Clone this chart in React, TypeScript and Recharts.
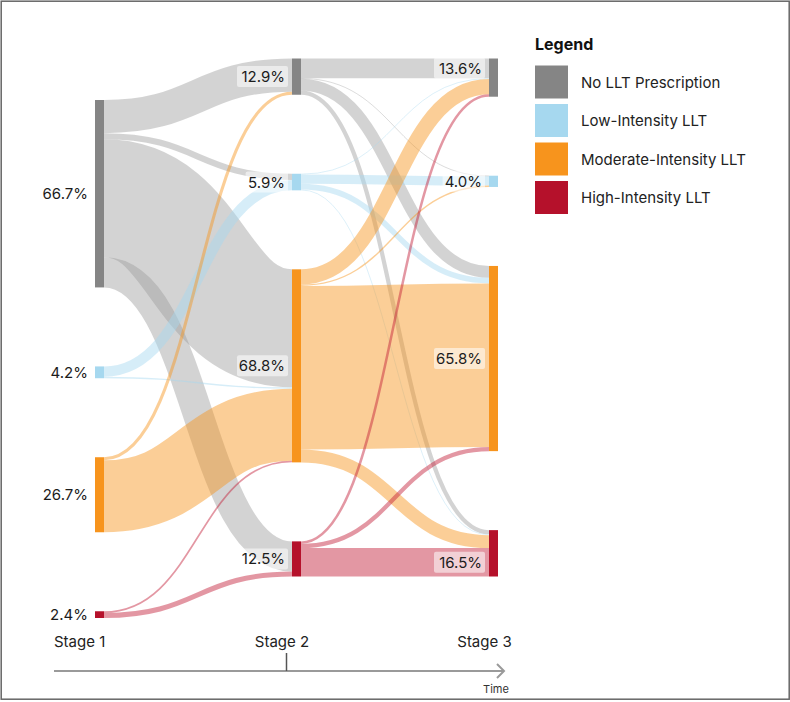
import React from "react";
import { Sankey } from "recharts";

const categories = ["No LLT Prescription", "Low-Intensity LLT", "Moderate-Intensity LLT", "High-Intensity LLT"];
const stages = ["Stage 1", "Stage 2", "Stage 3"];

const nodeColors = ["#858585", "#a6d8ef", "#f7941d", "#b5112b"];
const linkColors = ["#9e9e9e", "#a6d8ef", "#f7941d", "#c11d36"];

// share of patients (%) in each category at each stage
const stage1Share = [66.7, 4.2, 26.7, 2.4];
const stage2Share = [12.9, 5.9, 68.8, 12.5];
const stage3Share = [13.6, 4.0, 65.8, 16.5];

// share of all patients (%) moving between categories; rows = from, cols = to
const stage1To2 = [
  [11.8, 2.2, 42.0, 10.7],
  [0, 3.7, 0.5, 0],
  [1.1, 0, 25.6, 0],
  [0, 0, 0.6, 1.8],
];
const stage2To3 = [
  [7.0, 0.2, 4.2, 1.5],
  [0.3, 3.3, 2.0, 0.3],
  [5.4, 0.5, 58.2, 4.6],
  [0.9, 0, 1.5, 10.1],
];

const shares = [stage1Share, stage2Share, stage3Share];

const nodes = stages.flatMap((stage, s) =>
  categories.map((cat, c) => ({ name: `${stage}: ${cat}`, stage: s, cat: c, share: shares[s][c] }))
);

const links = [stage1To2, stage2To3].flatMap((m, s) =>
  m.flatMap((row, from) =>
    row
      .map((value, to) => ({ source: s * 4 + from, target: (s + 1) * 4 + to, value }))
      .filter((l) => l.value > 0)
  )
);

// the first column sits a bit lower than the other two
const STAGE1_SHIFT = 41.5;
const labelNudge: Record<string, number> = { "2-0": -9.5, "2-3": 9 };

const nodeOf = (n: any) => (typeof n === "object" ? n : nodes[n]);

function FlowLink(props: any) {
  const { sourceX, targetX, sourceY, targetY, sourceControlX, targetControlX, linkWidth, payload } = props;
  const src = nodeOf(payload.source);
  const tgt = nodeOf(payload.target);
  const sy = sourceY + (src.stage === 0 ? STAGE1_SHIFT : 0);
  const ty = targetY + (tgt.stage === 0 ? STAGE1_SHIFT : 0);
  return (
    <path
      d={`M${sourceX},${sy}C${sourceControlX},${sy} ${targetControlX},${ty} ${targetX},${ty}`}
      fill="none"
      stroke={linkColors[src.cat]}
      strokeOpacity={src.cat === 0 ? 0.45 : 0.46}
      strokeWidth={Math.max(linkWidth, 0.8)}
    />
  );
}

function StageNode(props: any) {
  const { x, y, width, height, payload } = props;
  const top = y + (payload.stage === 0 ? STAGE1_SHIFT : 0);
  const label = `${payload.share.toFixed(1)}%`;
  const cy = top + height / 2 + (labelNudge[`${payload.stage}-${payload.cat}`] ?? 0);
  const boxW = label.length * 8.6 + 8;
  return (
    <g>
      <rect x={x} y={top} width={width} height={height} fill={nodeColors[payload.cat]} />
      {payload.stage > 0 && (
        <rect x={x - 4 - boxW} y={cy - 10.5} width={boxW} height={21} rx={2} fill="#ffffff" fillOpacity={0.55} />
      )}
      <text x={x - 7} y={cy} textAnchor="end" dominantBaseline="central" fontSize={15} fill="#1c1c1c">
        {label}
      </text>
    </g>
  );
}

export default function App() {
  return (
    <div style={{ position: "absolute", left: 0, top: 0, width: 790, height: 702, background: "#fff", fontFamily: "Inter, 'Noto Sans', sans-serif" }}>
      <svg width={790} height={702} style={{ position: "absolute", left: 0, top: 0 }}>
        <rect x={1.2} y={1.2} width={788} height={698} fill="none" stroke="#666" strokeWidth={1.5} />
        {/* time axis */}
        <line x1={54} y1={671} x2={504} y2={671} stroke="#9a9a9a" strokeWidth={2} />
        <polyline points="497,664 504,671 497,678" fill="none" stroke="#9a9a9a" strokeWidth={2} />
        <line x1={286.5} y1={653} x2={286.5} y2={671} stroke="#555" strokeWidth={1.5} />
        <text x={54} y={647} fontSize={15} fill="#222">{stages[0]}</text>
        <text x={282} y={647} fontSize={15} fill="#222" textAnchor="middle">{stages[1]}</text>
        <text x={484.5} y={647} fontSize={15} fill="#222" textAnchor="middle">{stages[2]}</text>
        <text x={496} y={693} fontSize={11} fill="#333" textAnchor="middle">Time</text>
        {/* legend */}
        <text x={535} y={50} fontSize={16} fontWeight={700} fill="#111">Legend</text>
        {categories.map((c, i) => (
          <g key={c}>
            <rect x={535} y={65.5 + i * 38.5} width={33} height={33} fill={nodeColors[i]} />
            <text x={581} y={82 + i * 38.5} fontSize={15} fill="#222" dominantBaseline="central">{c}</text>
          </g>
        ))}
      </svg>
      <div style={{ position: "absolute", left: 0, top: 0 }}>
        <Sankey
          width={790}
          height={702}
          data={{ nodes, links }}
          margin={{ top: 58.5, left: 95, right: 292, bottom: 125.5 }}
          nodeWidth={9}
          nodePadding={79}
          iterations={0}
          link={<FlowLink />}
          node={<StageNode />}
        />
      </div>
    </div>
  );
}
